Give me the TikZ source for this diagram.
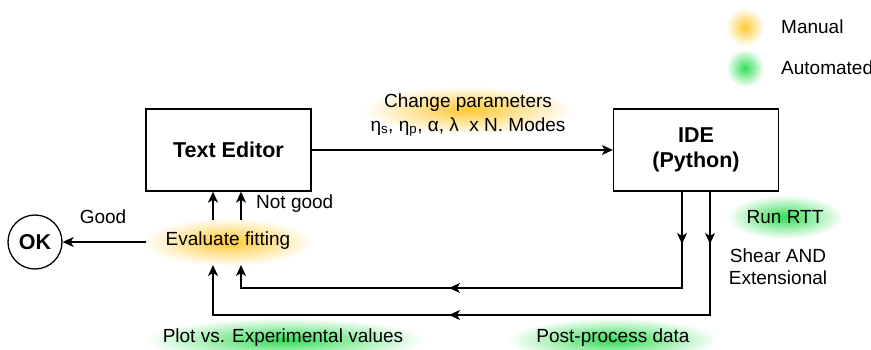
\documentclass[tikz,border=0pt]{standalone}
\usepackage{fontspec}
\setmainfont{Liberation Sans}
\usetikzlibrary{arrows.meta,fadings}
\tikzfading[name=glowfade, inner color=transparent!0, outer color=transparent!100]
\definecolor{manualc}{HTML}{FFC933}
\definecolor{autoc}{HTML}{33DD55}
\begin{document}
\begin{tikzpicture}[x=1pt,y=-1pt,
  font=\fontsize{19}{22}\selectfont,
  line/.style={line width=1.3pt},
  arr/.style={line width=1.3pt,-{Stealth[length=11pt,width=10pt,inset=3pt]}},
  box/.style={draw,line width=1.3pt,minimum width=165pt,minimum height=82pt,font=\fontsize{21.5}{25}\selectfont\bfseries,align=center},
  lbl/.style={inner sep=0pt},
  glowm/.style={fill=manualc,path fading=glowfade},
  glowa/.style={fill=autoc,path fading=glowfade}]
\useasboundingbox (0,0) rectangle (871,349);
% glows
\fill[glowm] (745,27) circle (19pt);
\fill[glowa] (745,68) circle (19pt);
\fill[glowm] (468,110) ellipse (105pt and 24pt);
\fill[glowm] (228,242) ellipse (85pt and 24pt);
\fill[glowa] (785,217) ellipse (58pt and 22pt);
\fill[glowa] (285,340) ellipse (140pt and 22pt);
\fill[glowa] (613,340) ellipse (105pt and 22pt);
% legend
\node[lbl,anchor=west] (man) at (781,27) {Manual};
\node[lbl,anchor=west] (aut) at (781,68) {Automated};
% boxes
\node[box] (te) at (228.5,150) {Text Editor};
\node[box] (ide) at (696,150) {IDE\\(Python)};
\node[draw,circle,line width=1.3pt,minimum size=54pt,inner sep=0pt,font=\fontsize{21.5}{25}\selectfont\bfseries] (ok) at (35,242) {OK};
% labels
\node[lbl] (ev) at (228,241) {Evaluate fitting};
\node[lbl] (cp) at (468,103) {Change parameters};
\node[lbl] (cp2) at (468,127) {η\textsubscript{s}, η\textsubscript{p}, α, λ\ \ x N. Modes};
\node[lbl] (good) at (103,217) {Good};
\node[lbl,anchor=west] (ng) at (256,204) {Not good};
\node[lbl] (rtt) at (785,217) {Run RTT};
\node[lbl,align=center] (sae) at (778,267) {Shear AND\\Extensional};
\node[lbl] (plot) at (283,338) {Plot vs. Experimental values};
\node[lbl] (pp) at (613,338) {Post-process data};
% coordinates
\coordinate (e1) at (213,220);
\coordinate (e2) at (241,220);
\coordinate (s0) at (146,242);
\coordinate (a1) at (682,288);
\coordinate (a2) at (710,315);
\coordinate (b1) at (241,265);
\coordinate (b2) at (213,265);
% connectors
\draw[arr] (te.east) -- (ide.west);
\draw[arr] (s0) -- (ok.east);
\draw[arr] (e1) -- (e1 |- te.south);
\draw[arr] (e2) -- (e2 |- te.south);
\draw[line] (ide.south -| a1) -- (a1) -- (a1 -| b1) -- ([yshift=-6pt]b1);
\draw[line] (ide.south -| a2) -- (a2) -- (a2 -| b2) -- ([yshift=-6pt]b2);
\draw[arr] (ide.south -| a1) -- ([yshift=44pt]a1);
\draw[arr] (ide.south -| a2) -- ([yshift=71pt]a2);
\draw[arr] (a1 -| 470,0) -- (a1 -| 449,0);
\draw[arr] (a2 -| 470,0) -- (a2 -| 449,0);
\draw[arr] ([yshift=-14pt]b1) -- (b1);
\draw[arr] ([yshift=-14pt]b2) -- (b2);
\end{tikzpicture}
\end{document}
